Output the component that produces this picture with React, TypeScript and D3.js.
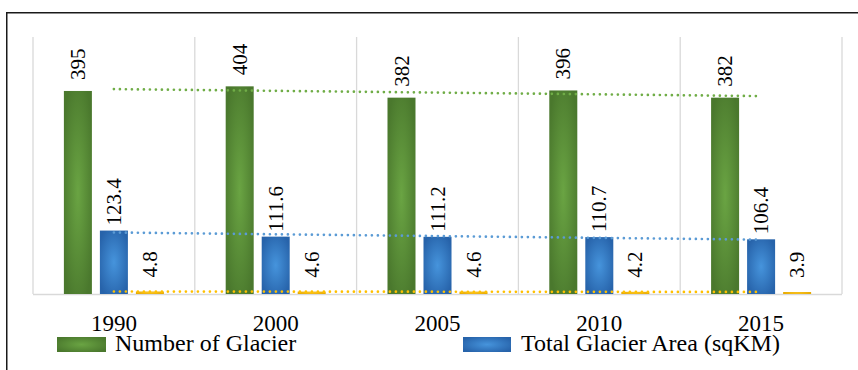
import React from "react";
import * as d3 from "d3";

const years = ["1990", "2000", "2005", "2010", "2015"];
const glacierCount = [395, 404, 382, 396, 382];
const glacierArea = [123.4, 111.6, 111.2, 110.7, 106.4];
const thirdSeries = [4.8, 4.6, 4.6, 4.2, 3.9];
const legendNames = ["Number of Glacier", "Total Glacier Area (sqKM)"];

const W = 858;
const H = 370;
const plot = { left: 33, right: 842, top: 37, bottom: 294 };
const FONT = "Liberation Serif, Times New Roman, serif";

const seriesDefs = [
  { key: "count", values: glacierCount, fill: "url(#gGreen)", trend: "#70AD47", labelGap: 11 },
  { key: "area", values: glacierArea, fill: "url(#gBlue)", trend: "#5B9BD5", labelGap: 5 },
  { key: "third", values: thirdSeries, fill: "url(#gYellow)", trend: "#FFC000", labelGap: 14 },
];

function trend(values: number[]) {
  const n = values.length;
  const xs = values.map((_, i) => i + 1);
  const mx = d3.mean(xs)!;
  const my = d3.mean(values)!;
  let num = 0, den = 0;
  xs.forEach((x, i) => { num += (x - mx) * (values[i] - my); den += (x - mx) ** 2; });
  const slope = num / den;
  return { start: my + slope * (1 - mx), end: my + slope * (n - mx) };
}

export default function App() {
  const x = d3.scaleBand<string>().domain(years).range([plot.left, plot.right]).paddingInner(0).paddingOuter(0);
  const inner = d3
    .scaleBand<string>()
    .domain(seriesDefs.map((s) => s.key))
    .range([0, x.bandwidth()])
    .paddingInner(0.2222)
    .paddingOuter(0.858);
  const y = d3.scaleLinear().domain([0, 500]).range([plot.bottom, plot.top]);
  const fs = 21;

  return (
    <svg width={W} height={H} style={{ position: "absolute", left: 0, top: 0, background: "#fff", fontFamily: FONT }}>
      <defs>
        <radialGradient id="gGreen" cx="0.5" cy="0.5" r="0.6">
          <stop offset="0" stopColor="#6AA443" />
          <stop offset="1" stopColor="#4A782D" />
        </radialGradient>
        <radialGradient id="gBlue" cx="0.5" cy="0.5" r="0.6">
          <stop offset="0" stopColor="#4694DC" />
          <stop offset="1" stopColor="#2763AA" />
        </radialGradient>
        <radialGradient id="gYellow" cx="0.5" cy="0.5" r="0.6">
          <stop offset="0" stopColor="#FFC928" />
          <stop offset="1" stopColor="#E5A800" />
        </radialGradient>
      </defs>
      <rect x={6.75} y={12.75} width={W + 10} height={H + 10} fill="none" stroke="#1a1a1a" strokeWidth={1.5} />
      {years.map((yr) => (
        <line key={yr} x1={x(yr)!} x2={x(yr)!} y1={plot.top} y2={plot.bottom} stroke="#D9D9D9" strokeWidth={1.3} />
      ))}
      <line x1={plot.right} x2={plot.right} y1={plot.top} y2={plot.bottom} stroke="#D9D9D9" strokeWidth={1.3} />
      <line x1={plot.left} x2={plot.right} y1={plot.bottom + 0.5} y2={plot.bottom + 0.5} stroke="#D9D9D9" strokeWidth={1.3} />
      {seriesDefs.map((s) =>
        s.values.map((v, i) => {
          const bx = x(years[i])! + inner(s.key)!;
          return (
            <rect key={s.key + i} x={bx} y={y(v)} width={inner.bandwidth()} height={plot.bottom - y(v)} fill={s.fill} />
          );
        })
      )}
      {seriesDefs.map((s) => {
        const t = trend(s.values);
        const x1 = x(years[0])! + x.bandwidth() / 2;
        const x2 = x(years[years.length - 1])! + x.bandwidth() / 2;
        return (
          <line key={"t" + s.key} x1={x1} x2={x2} y1={y(t.start)} y2={y(t.end)} stroke={s.trend} strokeWidth={2.7}
            strokeLinecap="round" strokeDasharray="0 6" />
        );
      })}
      {seriesDefs.map((s) =>
        s.values.map((v, i) => {
          const cx = x(years[i])! + inner(s.key)! + inner.bandwidth() / 2;
          const ty = y(v) - s.labelGap;
          return (
            <text key={"l" + s.key + i} transform={`translate(${cx + fs * 0.34},${ty}) rotate(-90)`}
              fontFamily={FONT} fontSize={fs} fill="#000">
              {v}
            </text>
          );
        })
      )}
      {years.map((yr) => (
        <text key={"c" + yr} x={x(yr)! + x.bandwidth() / 2} y={331} textAnchor="middle" fontFamily={FONT} fontSize={23} fill="#000">
          {yr}
        </text>
      ))}
      <rect x={57} y={337} width={49} height={15} fill="url(#gGreen)" />
      <text x={115} y={351} fontFamily={FONT} fontSize={24} fill="#000">{legendNames[0]}</text>
      <rect x={463} y={337} width={48} height={15} fill="url(#gBlue)" />
      <text x={521} y={351} fontFamily={FONT} fontSize={24} fill="#000">{legendNames[1]}</text>
    </svg>
  );
}
